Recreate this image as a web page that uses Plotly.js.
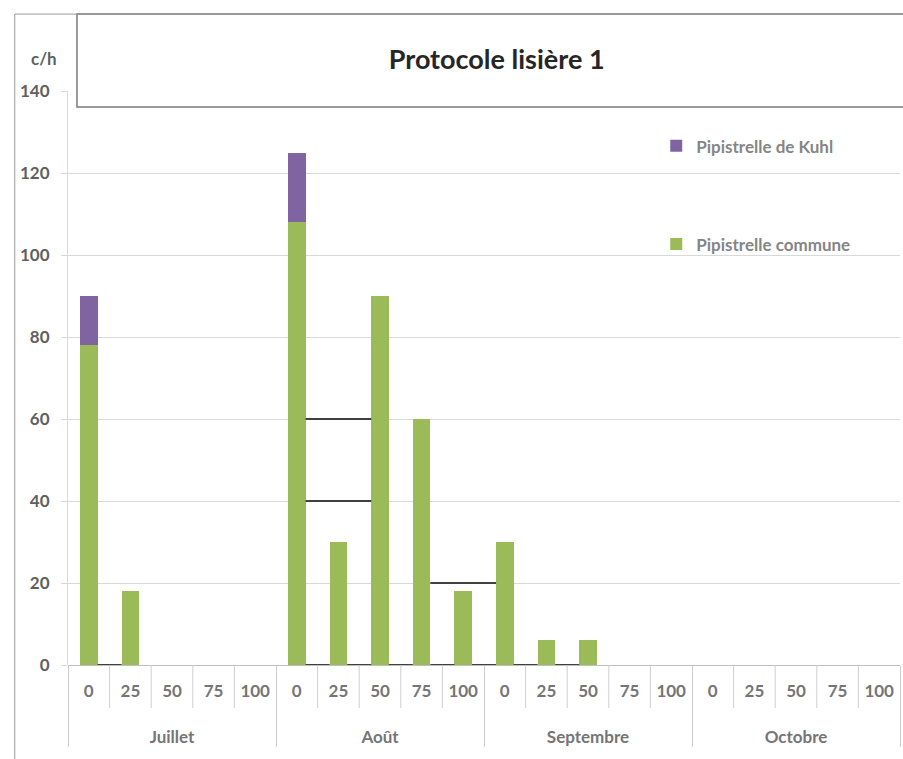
<!DOCTYPE html>
<html>
<head>
<meta charset="utf-8">
<script src="https://cdn.plot.ly/plotly-3.0.1.min.js"></script>
<style>html,body{margin:0;padding:0;background:#fff;}#chart{width:903px;height:759px;}</style>
</head>
<body>
<div id="chart"></div>
<script>
const months = ['Juillet', 'Août', 'Septembre', 'Octobre'];
const distances = ['0', '25', '50', '75', '100'];
const communeValues = [
  78, 18, 0, 0, 0,
  108, 30, 90, 60, 18,
  30, 6, 6, 0, 0,
  0, 0, 0, 0, 0
];
const kuhlValues = [
  12, 0, 0, 0, 0,
  17, 0, 0, 0, 0,
  0, 0, 0, 0, 0,
  0, 0, 0, 0, 0
];
const seriesNames = ['Pipistrelle commune', 'Pipistrelle de Kuhl'];
const chartTitle = 'Protocole lisière 1';
const yUnit = 'c/h';
const yTicks = [0, 20, 40, 60, 80, 100, 120, 140];
// dark connector segments visible in the source: [fromCategoryIndex, toCategoryIndex, value]
const darkSegments = [[5, 7, 60], [5, 7, 40], [8, 10, 20],
  [0, 1, 0], [5, 6, 0], [6, 7, 0], [7, 8, 0], [8, 9, 0], [9, 10, 0], [10, 11, 0], [11, 12, 0]];

const xMonth = [], xDist = [];
// leading line break drops the month row a little lower, as in the source
months.forEach(m => distances.forEach(d => { xMonth.push('<br>' + m); xDist.push(d); }));
const nCat = xMonth.length;

const FONT = 'Lato, "Open Sans", sans-serif';
const half = 0.21;

const traces = [
  {type: 'bar', name: seriesNames[0], x: [xMonth, xDist], y: communeValues,
   marker: {color: '#9BBB59'}, legendgroup: 'a', legendrank: 2, hoverinfo: 'y+name'},
  {type: 'bar', name: seriesNames[1], x: [xMonth, xDist], y: kuhlValues,
   marker: {color: '#8064A2'}, legendgroup: 'b', legendrank: 1, hoverinfo: 'y+name'}
];

const shapes = [];
// category separators inside each month
for (let i = 0; i < nCat - 1; i++) {
  if ((i + 1) % distances.length === 0) continue;
  shapes.push({type: 'line', xref: 'x', yref: 'paper', x0: i + 0.5, x1: i + 0.5,
    y0: 0, y1: -0.075, line: {color: '#cfcfcf', width: 1}});
}
darkSegments.forEach(s => {
  shapes.push({type: 'line', xref: 'x', yref: 'y', x0: s[0] + half, x1: s[1] - half,
    y0: s[2], y1: s[2], line: {color: '#404040', width: 2}});
});
// title box
shapes.push({type: 'rect', xref: 'paper', yref: 'paper', x0: 0.0108, x1: 1.02,
  y0: 0.972, y1: 1.134, fillcolor: '#ffffff', line: {color: '#7a7a7a', width: 1.5}, layer: 'above'});
// outer frame
shapes.push({type: 'line', xref: 'paper', yref: 'paper', x0: -0.064, x1: -0.064,
  y0: 1.134, y1: -0.17, line: {color: '#9a9a9a', width: 1}});
shapes.push({type: 'line', xref: 'paper', yref: 'paper', x0: -0.064, x1: 1.02,
  y0: 1.134, y1: 1.134, line: {color: '#9a9a9a', width: 1}});

const layout = {
  width: 903, height: 759,
  margin: {l: 68, r: 3, t: 91, b: 94},
  paper_bgcolor: '#ffffff', plot_bgcolor: '#ffffff',
  font: {family: FONT, color: '#595959', size: 14},
  barmode: 'stack',
  bargap: 0.58,
  title: {text: '<b>' + chartTitle + '</b>', font: {family: FONT, size: 27, color: '#262626'},
    x: 0.55, xanchor: 'center', y: 0.921, yanchor: 'middle', yref: 'container'},
  showlegend: true,
  legend: {x: 0.707, y: 0.935, xanchor: 'left', yanchor: 'top', bgcolor: 'rgba(0,0,0,0)',
    traceorder: 'grouped', tracegroupgap: 73,
    font: {family: FONT, size: 17, color: '#858585', weight: 'bold'}},
  xaxis: {
    type: 'multicategory',
    showgrid: false, zeroline: false,
    showline: false,
    ticks: 'outside', tickson: 'labels', ticklen: 11, tickcolor: 'rgba(0,0,0,0)',
    tickfont: {family: FONT, size: 17, color: '#757575', weight: 'bold'},
    showdividers: true, dividercolor: '#cfcfcf', dividerwidth: 1
  },
  yaxis: {
    range: [0, 140],
    tickvals: yTicks,
    showgrid: true, gridcolor: '#d9d9d9', gridwidth: 1,
    zeroline: true, zerolinecolor: '#bfbfbf', zerolinewidth: 1,
    showline: true, linecolor: '#d9d9d9', linewidth: 1,
    ticks: 'outside', ticklen: 6, tickcolor: '#d9d9d9',
    ticklabelstandoff: 8,
    tickfont: {family: FONT, size: 17, color: '#5f5f5f', weight: 'bold'}
  },
  annotations: [
    {text: '<b>' + yUnit + '</b>', xref: 'paper', yref: 'paper', x: -0.029, y: 1.057,
     xanchor: 'center', yanchor: 'middle', showarrow: false,
     font: {family: FONT, size: 17, color: '#5f5f5f'}}
  ],
  shapes: shapes
};

Plotly.newPlot('chart', traces, layout, {displayModeBar: false, staticPlot: true});
</script>
</body>
</html>
